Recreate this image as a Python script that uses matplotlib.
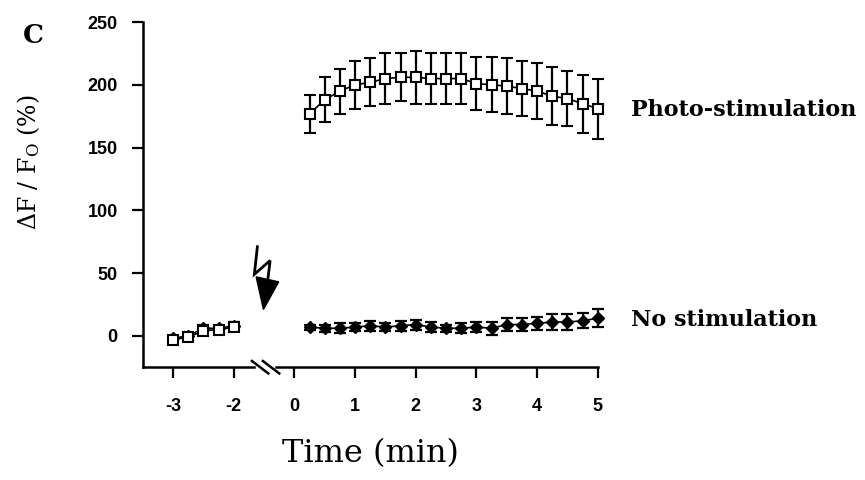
import matplotlib
matplotlib.use("Agg")
from matplotlib import pyplot as plt
from matplotlib.patches import Polygon

plt.rcParams['mathtext.fontset'] = 'dejavuserif'

# time (min); before the break the axis is shifted by +1 so -2 sits one unit left of 0
pre_time = [-3.0, -2.75, -2.5, -2.25, -2.0]
post_time = [0.25, 0.5, 0.75, 1.0, 1.25, 1.5, 1.75, 2.0, 2.25, 2.5,
             2.75, 3.0, 3.25, 3.5, 3.75, 4.0, 4.25, 4.5, 4.75, 5.0]

photo_pre = [-3, -1, 4, 5, 7]
photo_pre_err = [2, 2, 2, 2, 2]
photo_post = [177, 188, 195, 200, 202, 205, 206, 206, 205, 205,
              205, 201, 200, 199, 197, 195, 191, 189, 185, 181]
photo_post_err = [15, 18, 18, 19, 19, 20, 19, 21, 20, 20,
                  20, 21, 22, 22, 22, 22, 23, 22, 23, 24]

nostim_pre = [-2, 0, 6, 6, 8]
nostim_pre_err = [2, 2, 3, 2, 3]
nostim_post = [7, 6, 6, 7, 8, 7, 8, 9, 7, 6,
               6, 7, 6, 9, 9, 10, 11, 11, 12, 14]
nostim_post_err = [2, 3, 4, 3, 4, 3, 4, 4, 4, 3,
                   4, 4, 5, 5, 5, 5, 6, 6, 6, 7]

xtick_vals = [-3, -2, 0, 1, 2, 3, 4, 5]
ytick_vals = [0, 50, 100, 150, 200, 250]


def axis_pos(t):
    return [v + 1 if v < 0 else v for v in t]


fig = plt.figure(figsize=(8.65, 4.8), dpi=100)
ax = fig.add_axes([0.165, 0.235, 0.526, 0.719])

eb = dict(color='black', lw=1.2, elinewidth=1.6, capsize=4.5, capthick=1.6)
containers = []

# no stimulation: filled diamonds
containers.append(ax.errorbar(axis_pos(pre_time), nostim_pre, yerr=nostim_pre_err, fmt='-D',
                              ms=6, mfc='black', mec='black', **eb))
containers.append(ax.errorbar(axis_pos(post_time), nostim_post, yerr=nostim_post_err, fmt='-D',
                              ms=6, mfc='black', mec='black', **eb))

# photo-stimulation: open squares
containers.append(ax.errorbar(axis_pos(pre_time), photo_pre, yerr=photo_pre_err, fmt='-s',
                              ms=7, mfc='white', mec='black', mew=1.5, **eb))
containers.append(ax.errorbar(axis_pos(post_time), photo_post, yerr=photo_post_err, fmt='-s',
                              ms=7, mfc='white', mec='black', mew=1.5, **eb))

for c in containers:
    for art in c.get_children():
        art.set_clip_on(False)

ax.set_xlim(-2.5, 5.0)
ax.set_ylim(-25, 250)

for s in ['top', 'right', 'bottom']:
    ax.spines[s].set_visible(False)
ax.spines['left'].set_linewidth(1.8)

# broken x axis drawn as two pieces with slash marks
trans = ax.get_xaxis_transform()
ax.plot([-2.5, -0.66], [0, 0], color='black', lw=1.8, transform=trans, clip_on=False)
ax.plot([-0.30, 5.0], [0, 0], color='black', lw=1.8, transform=trans, clip_on=False)
for x0 in [-0.70, -0.52]:
    ax.plot([x0, x0 + 0.27], [0.018, -0.018], color='black', lw=1.8,
            transform=trans, clip_on=False)

ax.set_xticks(axis_pos(xtick_vals))
ax.set_xticklabels([str(v) for v in xtick_vals])
ax.set_yticks(ytick_vals)
ax.tick_params(direction='out', length=8, width=1.6, pad=14)
ax.tick_params(axis='y', pad=10)
for lab in ax.get_xticklabels() + ax.get_yticklabels():
    lab.set_fontfamily('Liberation Sans')
    lab.set_fontweight('bold')
    lab.set_fontsize(13)

ax.set_xlabel('Time (min)', family='DejaVu Serif', fontsize=23, labelpad=17)
ax.set_ylabel(r'ΔF / F$_{\rm O}$ (%)', family='DejaVu Serif', fontsize=17)
ax.yaxis.set_label_coords(-0.222, 0.594)

# lightning bolt with arrowhead marking the stimulus
ax.plot([-0.61, -0.66, -0.40, -0.44], [71, 49, 60, 44], color='black', lw=2,
        solid_joinstyle='miter', clip_on=False)
ax.add_patch(Polygon([[-0.63, 47], [-0.26, 43], [-0.51, 21]], closed=True,
                     color='black', clip_on=False))

ax.text(5.55, 180, 'Photo-stimulation', family='DejaVu Serif', fontweight='bold',
        fontsize=16, va='center', ha='left', clip_on=False)
ax.text(5.55, 13, 'No stimulation', family='DejaVu Serif', fontweight='bold',
        fontsize=16, va='center', ha='left', clip_on=False)

fig.text(0.039, 0.927, 'C', family='DejaVu Serif', fontweight='bold', fontsize=19,
         ha='center', va='center')

fig.savefig('out.png', dpi=100)
